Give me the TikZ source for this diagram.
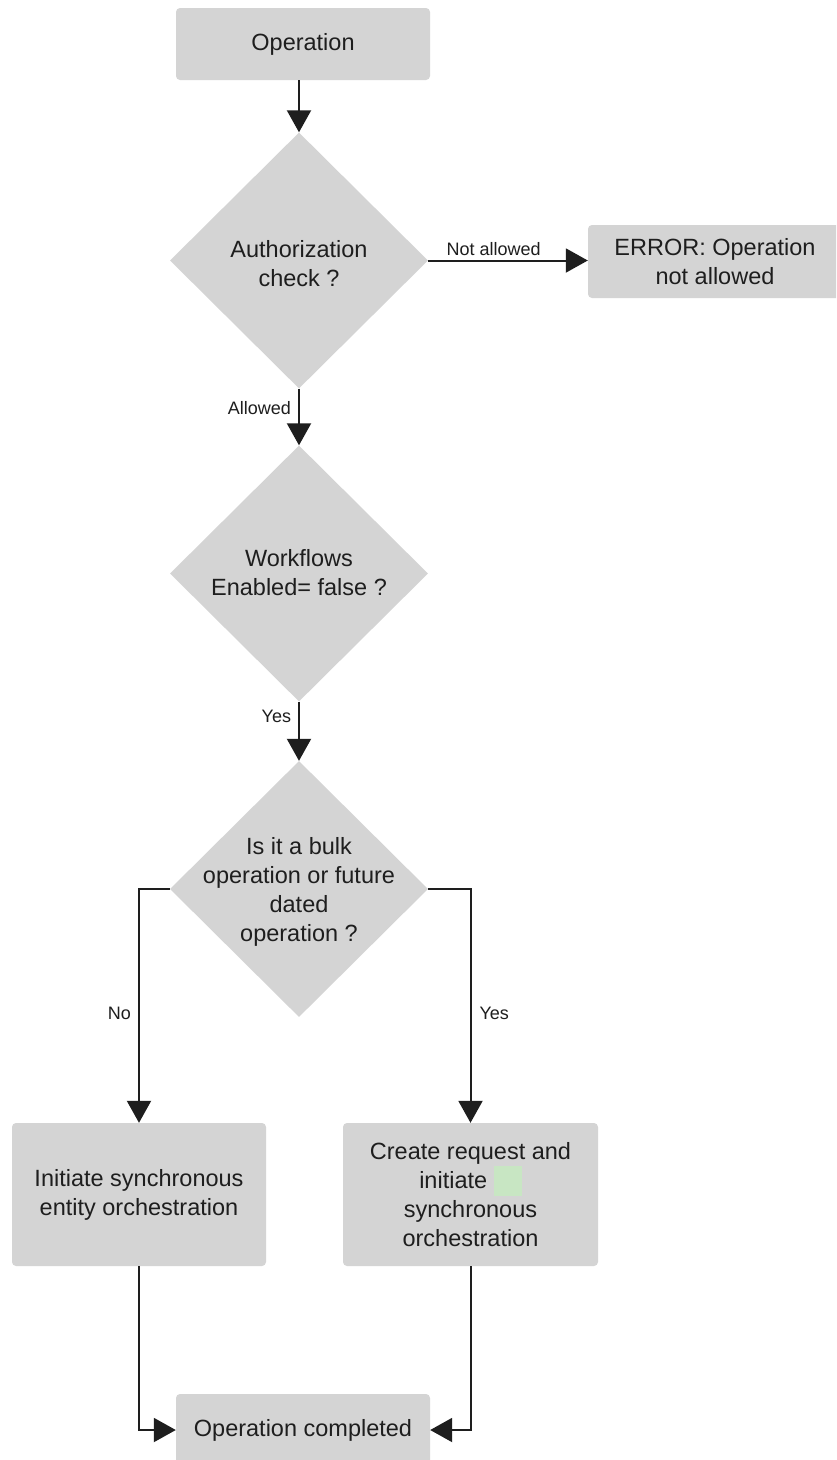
\documentclass[tikz,border=0pt]{standalone}
\usepackage{fontspec}
\setmainfont{Liberation Sans}
\usetikzlibrary{shapes.geometric,arrows.meta}
\definecolor{boxgray}{RGB}{212,212,212}
\definecolor{blobgreen}{RGB}{200,230,195}
\definecolor{inkc}{RGB}{30,30,30}
\newcommand\maintext{\fontsize{23.5}{29}\selectfont}
\newcommand\lbltext{\fontsize{18}{20}\selectfont}
\begin{document}
\begin{tikzpicture}[x=1pt,y=-1pt,
  box/.style={fill=boxgray,rounded corners=4pt,minimum width=254pt,minimum height=72pt,inner sep=0pt,align=center,font=\maintext,text=inkc},
  dia/.style={diamond,fill=boxgray,minimum width=258pt,minimum height=256pt,inner sep=0pt},
  txt/.style={align=center,font=\maintext,text=inkc,inner sep=0pt},
  arr/.style={draw=inkc,line width=2pt,-{Triangle[length=22pt,width=24pt]}},
  lbl/.style={font=\lbltext,text=inkc,inner sep=2pt}]
\fill[white] (0,0) rectangle (836,1460);
\useasboundingbox (0,0) rectangle (836,1460);
\begin{scope}
\clip (0,0) rectangle (836,1460);
\node[box] (op) at (303,44) {Operation};
\node[dia] (d1) at (299,260.5) {};
\node[txt] (t1) at (299,264) {Authorization\\check ?};
\node[box,minimum height=73pt] (err) at (715,261.5) {ERROR: Operation\\not allowed};
\node[dia] (d2) at (299,573.5) {};
\node[txt] (t2) at (299,573) {Workflows\\Enabled= false ?};
\node[dia] (d3) at (299,889) {};
\node[txt] (t3) at (299,892) {Is it a bulk\\operation or future\\dated\\operation ?};
\node[box,minimum height=143pt] (L) at (139,1194.5) {Initiate synchronous\\entity orchestration};
\node[box,minimum width=255pt,minimum height=143pt] (R) at (470.5,1194.5) {Create request and\\initiate~\smash{\textcolor{blobgreen}{\rule[-8pt]{28pt}{30pt}}}\\synchronous\\orchestration};
\node[box] (B) at (303,1430) {Operation completed};
\end{scope}
\draw[arr] (op.south -| d1.north) -- (d1.north);
\draw[arr] (d1.east) -- (d1.east -| err.west) node[lbl,pos=0.41,above=2pt] {Not allowed};
\draw[arr] (d1.south) -- (d2.north) node[lbl,pos=0.35,left=5pt] {Allowed};
\draw[arr] (d2.south) -- (d3.north) node[lbl,pos=0.25,left=5pt] {Yes};
\draw[arr] (d3.west) -| (L.north) node[lbl,pos=0.765,left=5pt] {No};
\draw[arr] (d3.east) -| (R.north) node[lbl,pos=0.765,right=6pt] {Yes};
\draw[arr] (L.south) |- (B.west);
\draw[arr] (R.south) |- (B.east);
\end{tikzpicture}
\end{document}
